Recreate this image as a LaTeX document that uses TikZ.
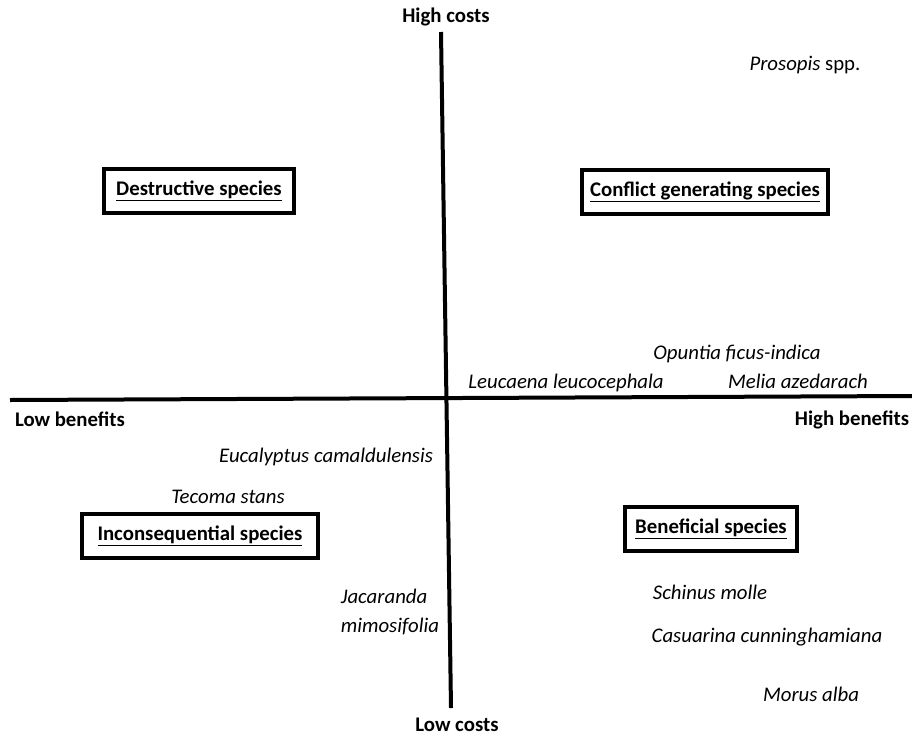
\documentclass[tikz,border=0pt]{standalone}
\usepackage{fontspec}
\setmainfont{Carlito}
\begin{document}
\begin{tikzpicture}[x=0.75pt,y=-0.75pt,
  axis/.style={line width=3pt},
  axlabel/.style={font=\fontsize{15.6}{19}\selectfont\bfseries, inner sep=0pt},
  spec/.style={font=\fontsize{15.6}{21.75}\selectfont\itshape, inner sep=0pt},
  catbox/.style={draw, line width=3pt, font=\fontsize{15.6}{19}\selectfont\bfseries, inner sep=0pt, minimum height=33pt}
]
\useasboundingbox (0,0) rectangle (912,735);
% axes
\coordinate (xl) at (10,400);
\coordinate (xr) at (912,396);
\coordinate (yt) at (441,32);
\coordinate (yb) at (451,708);
\draw[axis] (xl) -- (xr);
\draw[axis] (yt) -- (yb);
% axis labels
\node[axlabel] (hc) at (446,17) {High costs};
\node[axlabel] (lc) at (457,725) {Low costs};
\node[axlabel] (lb) at (70,419) {Low benefits};
\node[axlabel] (hb) at (852,420) {High benefits};
% category boxes
\node[catbox, minimum width=143pt] (des) at (199,191) {\underline{Destructive species}};
\node[catbox, minimum width=184pt] (con) at (705,192) {\underline{Conflict generating species}};
\node[catbox, minimum width=177pt] (inc) at (200,536) {\underline{Inconsequential species}};
\node[catbox, minimum width=129pt] (ben) at (711,529) {\underline{Beneficial species}};
% species
\node[spec] (pro) at (805,65) {Prosopis \upshape spp.};
\node[spec] (opu) at (737,354) {Opuntia ficus-indica};
\node[spec] (mel) at (798,381) {Melia azedarach};
\node[spec] (leu) at (566,383) {Leucaena leucocephala};
\node[spec] (euc) at (326,457) {Eucalyptus camaldulensis};
\node[spec] (tec) at (228,497) {Tecoma stans};
\node[spec, align=left] (jac) at (390,612) {Jacaranda\\mimosifolia};
\node[spec] (sch) at (710,592) {Schinus molle};
\node[spec] (cas) at (767,637) {Casuarina cunninghamiana};
\node[spec] (mor) at (811,694) {Morus alba};
\end{tikzpicture}
\end{document}
